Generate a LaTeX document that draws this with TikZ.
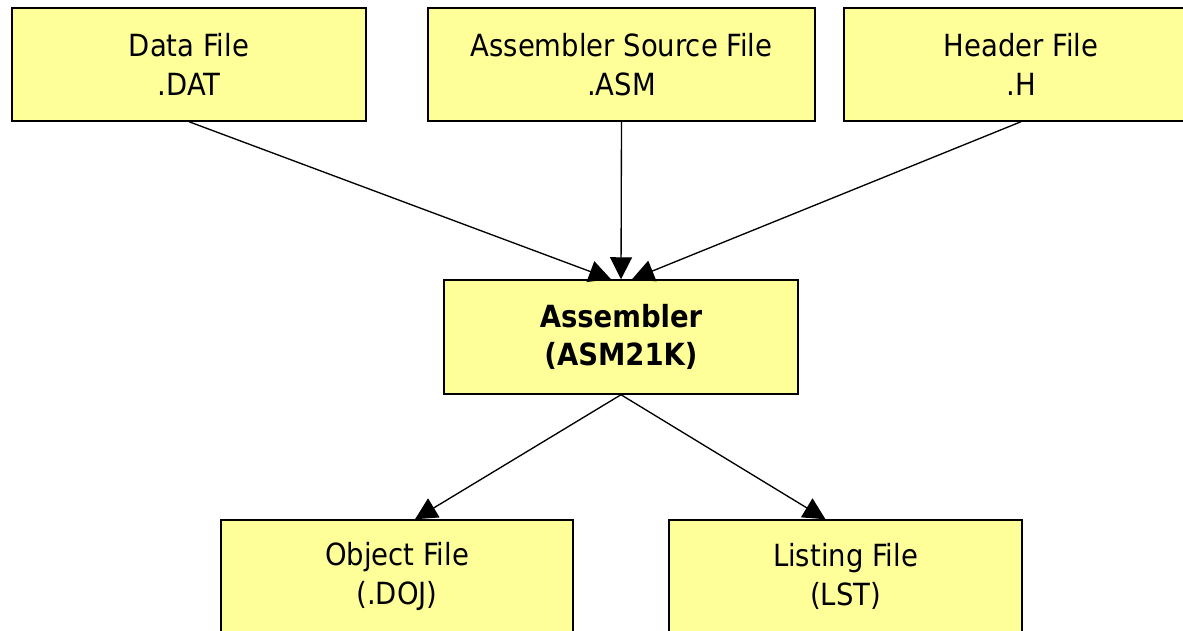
\documentclass[tikz,border=0pt]{standalone}
\usepackage{fontspec}
\setmainfont{DejaVu Sans Condensed}
\usetikzlibrary{arrows.meta,calc}
\definecolor{boxfill}{HTML}{FFFF99}
\tikzset{
  filebox/.style={draw=black, line width=1.1pt, fill=boxfill, align=center,
    minimum width=354*0.75pt, minimum height=113*0.75pt, inner sep=0pt,
    font=\fontsize{22.9}{28.9}\selectfont},
  link/.style={draw=black, line width=1pt, -{Triangle[length=16.5pt,width=16.5pt]}}
}
\begin{document}
\begin{tikzpicture}[x=0.75pt,y=-0.75pt]
\useasboundingbox (0,0) rectangle (1183,631);
\clip (0,0) rectangle (1183,631);
\node[filebox] (data) at (189,64.5) {Data File\\.DAT};
\node[filebox, minimum width=387*0.75pt] (src) at (621.5,64.5) {Assembler Source File\\.ASM};
\node[filebox] (hdr) at (1021,64.5) {Header File\\.H};
\node[filebox, minimum height=114*0.75pt, font=\fontsize{22.9}{28.9}\selectfont\bfseries] (asm) at (621,337) {Assembler\\(ASM21K)};
\node[filebox, minimum width=352*0.75pt] (obj) at (397,576.5) {Object File\\(.DOJ)};
\node[filebox, minimum width=353*0.75pt] (lst) at (845.5,576.5) {Listing File\\(LST)};
\draw[link] (data.south) -- ($(asm.north)+(-10,0)$);
\draw[link] (src.south) -- (asm.north);
\draw[link] (hdr.south) -- ($(asm.north)+(11,0)$);
\draw[link] (asm.south) -- ($(obj.north)+(18,0)$);
\draw[link] (asm.south) -- ($(lst.north)+(-20,0)$);
\end{tikzpicture}
\end{document}
